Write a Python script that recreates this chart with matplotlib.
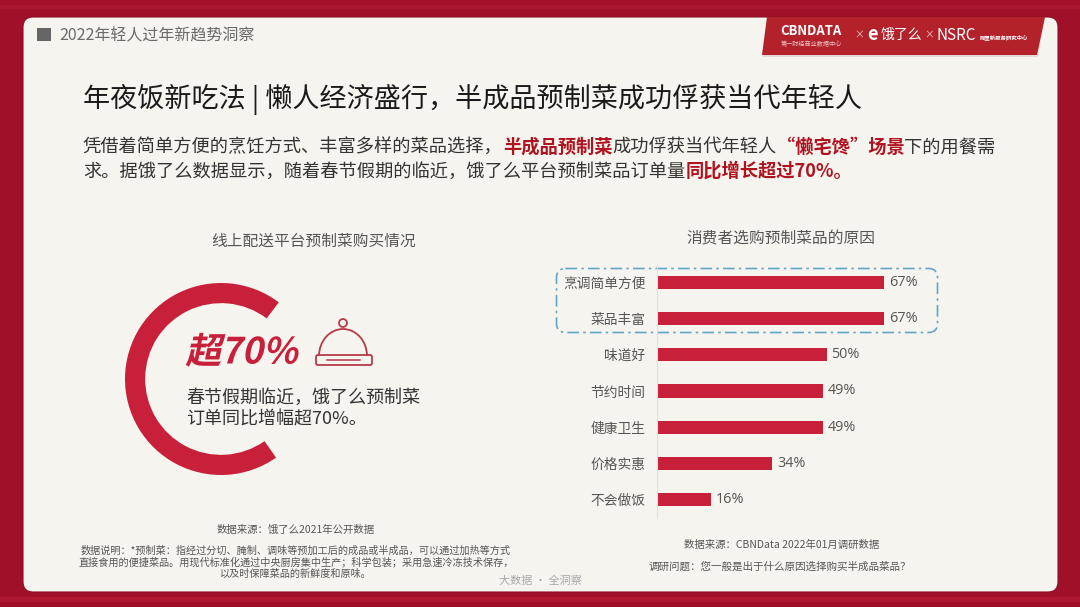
import numpy as np
import matplotlib
matplotlib.use("Agg")
import matplotlib.pyplot as plt
import matplotlib.patheffects as pe
from matplotlib.patches import Rectangle, FancyBboxPatch, Polygon, Circle, Arc
from matplotlib.transforms import Affine2D

plt.rcParams['font.family'] = ['Noto Sans CJK SC', 'DejaVu Sans']

# data
categories = ["烹调简单方便", "菜品丰富", "味道好", "节约时间", "健康卫生", "价格实惠", "不会做饭"]
values = [67, 67, 50, 49, 49, 34, 16]
ring_values = [70, 30]

title = "年夜饭新吃法 | 懒人经济盛行，半成品预制菜成功俘获当代年轻人"
body_1 = [("凭借着简单方便的烹饪方式、丰富多样的菜品选择，", False), ("半成品预制菜", True),
          ("成功俘获当代年轻人", False), ("“懒宅馋”场景", True), ("下的用餐需", False)]
body_2 = [("求。据饿了么数据显示，随着春节假期的临近，饿了么平台预制菜品订单量", False), ("同比增长超过70%。", True)]
note_lines = ["数据说明：*预制菜：指经过分切、腌制、调味等预加工后的成品或半成品，可以通过加热等方式",
              "直接食用的便捷菜品。用现代标准化通过中央厨房集中生产；科学包装；采用急速冷冻技术保存，",
              "以及时保障菜品的新鲜度和原味。"]

RED = "#C8203A"
DARK = "#333333"
GREY = "#555555"
W, H = 1080, 607


class Skew(pe.AbstractPathEffect):
    # fake italic for the CJK font, which has no oblique face
    def __init__(self, x0, y0, deg):
        super().__init__()
        self.x0, self.y0, self.deg = x0, y0, deg

    def draw_path(self, renderer, gc, tpath, affine, rgbFace=None):
        sk = Affine2D().translate(-self.x0, -self.y0).skew_deg(self.deg, 0).translate(self.x0, self.y0)
        renderer.draw_path(gc, tpath, affine + sk, rgbFace)


def axes_px(fig, left, top, right, bottom):
    return fig.add_axes([left / W, 1 - bottom / H, (right - left) / W, (bottom - top) / H])


def rich_line(ax, x, y, parts, size):
    r = ax.figure.canvas.get_renderer()
    for s, strong in parts:
        t = ax.text(x, y, s, fontsize=size, va="center", ha="left",
                    color="#B0121F" if strong else DARK, fontweight="bold" if strong else "normal")
        x += t.get_window_extent(r).width


fig = plt.figure(figsize=(W / 100, H / 100), dpi=100, facecolor="#A01029")

# page furniture, drawn in pixel coordinates
bg = fig.add_axes([0, 0, 1, 1], zorder=0)
bg.set_xlim(0, W)
bg.set_ylim(H, 0)
bg.axis("off")
bg.add_patch(Rectangle((0, 597), W, 5, fc="#AE1830", ec="none"))
bg.add_patch(Rectangle((0, 5), W, 4, fc="#A81630", ec="none"))
bg.add_patch(FancyBboxPatch((31, 25), 1019, 559, boxstyle="round,pad=8,rounding_size=10",
                            fc="#F6F4EF", ec="#8E0E24", lw=0.8))
bg.add_patch(Polygon([(767, 18), (1045, 18), (1038, 57), (762, 57)], closed=True, fc="#E2D9D5", ec="none"))
bg.add_patch(Polygon([(767, 17), (1045, 17), (1037, 55), (762, 55)], closed=True, fc="#B3212B", ec="none"))

bg.add_patch(Rectangle((37, 28), 14, 13, fc="#666666", ec="none"))
bg.text(59, 36, "2022年轻人过年新趋势洞察", fontsize=11.5, color="#6A6A6A", va="center")

# header logos
bg.text(780, 31, "CBNDATA", fontsize=9.4, color="white", fontweight="bold", va="center")
bg.text(781, 44, "第一财经商业数据中心", fontsize=4.4, color="#F0C8C8", va="center")
bg.text(854, 35, "×", fontsize=7, color="#F0C8C8", va="center")
bg.text(867, 34, "e", fontsize=13, color="white", fontweight="bold", va="center")
bg.text(881, 35, "饿了么", fontsize=10, color="white", va="center")
bg.text(924, 35, "×", fontsize=7, color="#F0C8C8", va="center")
bg.text(936, 35, "NSRC", fontsize=11, color="white", va="center")
bg.text(980, 37, "阿里新服务研究中心", fontsize=3.9, color="white", fontweight="bold", va="center")

bg.text(83, 99, title, fontsize=19.5, color="#1A1A1A", va="center", fontweight="medium")
rich_line(bg, 83, 147.5, body_1, 13.15)
rich_line(bg, 83, 171.5, body_2, 13.15)

# left panel
bg.text(314, 241, "线上配送平台预制菜购买情况", fontsize=11.3, color=GREY, ha="center", va="center")
bg.text(185, 353, "超", fontsize=26, color=RED, fontweight="bold", va="center",
        path_effects=[Skew(185, H - 365, 12)])
bg.text(220, 353, "70%", fontsize=26, color=RED, fontweight="bold", va="center",
        path_effects=[Skew(220, H - 365, 12)])
bg.text(186, 398, "春节假期临近，饿了么预制菜", fontsize=13, color=DARK, va="center")
bg.text(186, 419, "订单同比增幅超70%。", fontsize=13, color=DARK, va="center")

# cloche icon
bg.add_patch(Arc((343, 356), 48, 54, theta1=180, theta2=360, ec="#B83A48", lw=1.3))
bg.add_patch(Circle((343, 323), 4, fc="none", ec="#B83A48", lw=1.3))
bg.add_patch(FancyBboxPatch((317, 356), 54, 8, boxstyle="round,pad=1,rounding_size=2",
                            fc="none", ec="#B83A48", lw=1.3))
bg.plot([327, 360], [360, 360], color="#B83A48", lw=1.1)

bg.text(296, 530, "数据来源：饿了么2021年公开数据", fontsize=7.5, color=GREY, ha="center", va="center")
for yy, line in zip([551, 562, 574], note_lines):
    bg.text(296, yy, line, fontsize=7.3, color=GREY, ha="center", va="center")

# right panel
bg.text(781, 239, "消费者选购预制菜品的原因", fontsize=11.3, color=GREY, ha="center", va="center")
bg.text(782, 545, "数据来源：CBNData 2022年01月调研数据", fontsize=7.5, color=GREY, ha="center", va="center")
bg.text(780, 567, "调研问题：您一般是出于什么原因选择购买半成品菜品？", fontsize=7.6, color=GREY, ha="center", va="center")
bg.text(540, 581, "大数据 · 全洞察", fontsize=8, color="#A8A8A8", ha="center", va="center")

# ring
ring = axes_px(fig, 125, 283, 317, 475)
ring.set_zorder(1)
ring.pie(ring_values, colors=[RED, "none"], startangle=53, radius=1, wedgeprops=dict(width=0.21, lw=0))
ring.set(xlim=(-1, 1), ylim=(-1, 1))

# bars
ax = axes_px(fig, 657, 264, 996, 518)
ax.set_zorder(1)
ax.patch.set_alpha(0)
y = np.arange(len(categories))
bars = ax.barh(y, values, height=0.36, color=RED)
ax.bar_label(bars, labels=[f"{v}%" for v in values], padding=3.5, fontsize=10.4, color=GREY, family="Open Sans")
ax.set_xlim(0, 100)
ax.set_ylim(6.5, -0.5)
ax.set_xticks([])
ax.set_yticks(y, categories, fontsize=9.9, color=GREY)
ax.tick_params(axis="y", length=0, pad=8.4)
for s in ["top", "right", "bottom"]:
    ax.spines[s].set_visible(False)
ax.spines["left"].set_color("#E2E0DC")

# dashed highlight round the top two rows
bg.add_patch(FancyBboxPatch((564, 276), 366, 49, boxstyle="round,pad=7.5,rounding_size=9", fc="none",
                            ec="#5FA6C6", lw=1.2, ls=(0, (7, 2.5, 1.5, 2.5))))

fig.savefig("out.png", dpi=100, facecolor=fig.get_facecolor())
